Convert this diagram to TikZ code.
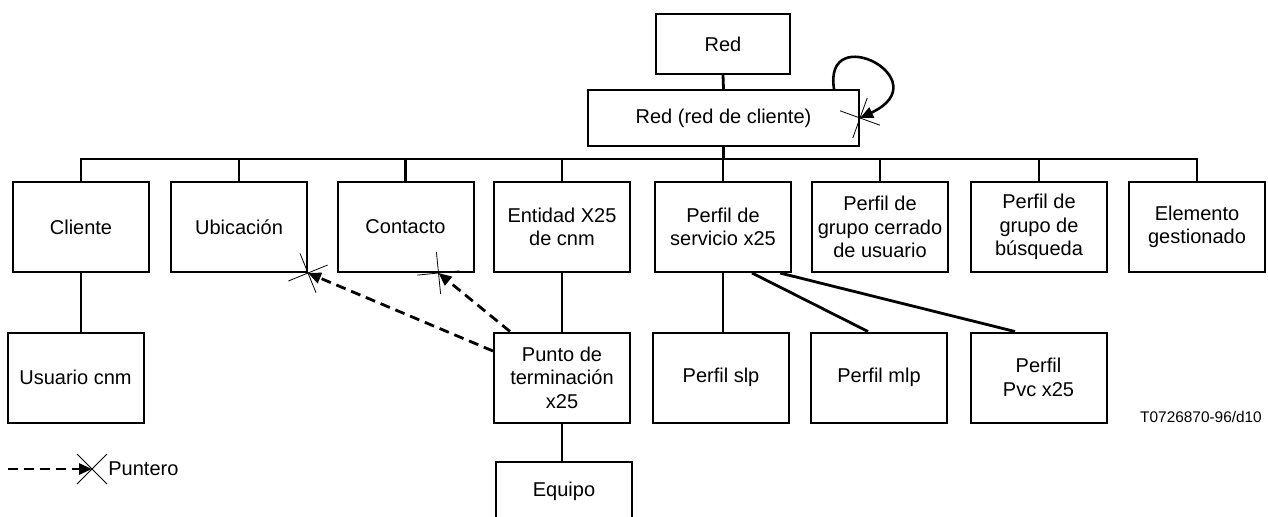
\documentclass[tikz,border=0pt]{standalone}
\usepackage{fontspec}
\setmainfont{Liberation Sans}
\usetikzlibrary{arrows.meta,shapes.misc,calc}
\begin{document}
\begin{tikzpicture}[x=0.5pt,y=-0.5pt,
  box/.style={draw, line width=1pt, align=center, inner sep=1pt,
    font=\fontsize{10}{11.7}\selectfont, minimum width=68pt, minimum height=45pt},
  conn/.style={line width=1.4pt},
  busline/.style={line width=1pt},
  ptr/.style={line width=1.4pt, dash pattern=on 5pt off 3pt, -{Triangle[length=6.5pt,width=5.5pt]}},
  loopptr/.style={line width=1.3pt, -{Triangle[length=6.5pt,width=5.5pt]}},
  crossmark/.style={solid, draw, cross out, line width=0.4pt, minimum size=15pt, inner sep=0pt, outer sep=0pt, sloped, pos=1}
]
\useasboundingbox (0,0) rectangle (1268,516);
% top
\node[box, minimum width=67pt, minimum height=30pt] (red) at (723,44) {Red};
\node[box, minimum width=135.5pt, minimum height=28pt] (rc) at (723.5,118) {Red (red de cliente)};
% level 2
\node[box] (cliente)   at (81,227)    {Cliente};
\node[box] (ubic)      at (239,227)   {Ubicación};
\node[box] (contacto)  at (405.5,227) {Contacto};
\node[box] (entidad)   at (562,227)   {Entidad X25\\de cnm};
\node[box] (servicio)  at (723,227)   {Perfil de\\servicio x25};
\node[box] (cerrado)   at (880,227)   {Perfil de\\grupo cerrado\\de usuario};
\node[box] (busqueda)  at (1039,227)  {Perfil de\\grupo de\\búsqueda};
\node[box] (elemento)  at (1197,227)  {Elemento\\gestionado};
% level 3
\node[box] (usuario) at (75.5,377.5)  {Usuario cnm};
\node[box] (punto)   at (562,377.5)   {Punto de\\terminación\\x25};
\node[box] (slp)     at (721,377.5)   {Perfil slp};
\node[box] (mlp)     at (879,377.5)   {Perfil mlp};
\node[box] (pvc)     at (1038.5,377.5){Perfil\\Pvc x25};
\node[box, minimum height=29pt] (equipo) at (564,491) {Equipo};
% bus
\coordinate (busy) at (0,159);
\draw[conn] (red.south) -- (rc.north);
\draw[conn] (rc.south) -- (rc.south |- busy);
\draw[busline] (cliente.north) |- (busy -| elemento.north) -- (elemento.north);
\foreach \n in {ubic,contacto,entidad,servicio,cerrado,busqueda}
  \draw[conn] (\n.north) -- (\n.north |- busy);
% level 3 connectors
\draw[conn] (cliente.south) -- (cliente.south |- usuario.north);
\draw[conn] (entidad.south) -- (entidad.south |- punto.north);
\draw[conn] (punto.south) -- (punto.south |- equipo.north);
\draw[conn] (servicio.south) -- (servicio.south |- slp.north);
\draw[conn] ([xshift=14.5pt]servicio.south) -- ([xshift=-5.5pt]mlp.north);
\draw[conn] ([xshift=28.5pt]servicio.south) -- ([xshift=-11.75pt]pvc.north);
% pointers
\draw[ptr] ([yshift=13.25pt]punto.west) -- (ubic.south east) node[crossmark]{};
\draw[ptr] ([xshift=8.5pt]punto.north west) -- ([xshift=51pt]contacto.south west) node[crossmark]{};
\draw[loopptr] ([xshift=-13pt]rc.north east) .. controls +(-11,-70) and +(81,-38) .. (rc.east) node[crossmark]{};
% legend
\coordinate (lg0) at (8,469);
\coordinate (lg1) at (92,469);
\draw[ptr] (lg0) -- (lg1) node[crossmark]{};
\node[anchor=west, inner sep=0pt, font=\fontsize{10}{11.7}\selectfont] (puntero) at (108,469) {Puntero};
% figure id
\node[font=\fontsize{7.7}{9}\selectfont, inner sep=0pt] (fid) at (1201,417) {T0726870-96/d10};
\end{tikzpicture}
\end{document}
